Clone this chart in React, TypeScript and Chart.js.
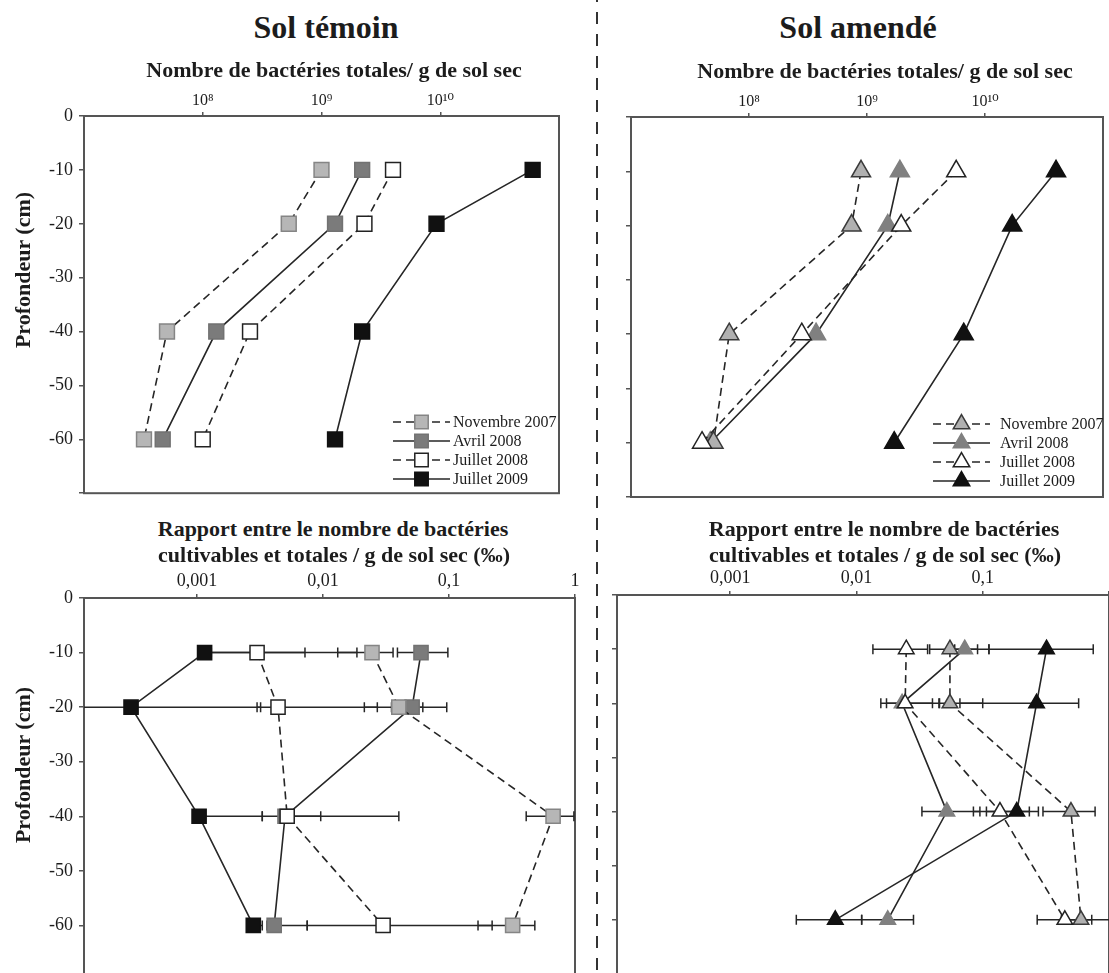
import React, { useEffect, useRef } from 'react';
import { Chart, registerables } from 'chart.js';

Chart.register(...registerables);

// ---------------- DATA ----------------
const depths = [-10, -20, -40, -60];
const depthTicks = [0, -10, -20, -30, -40, -50, -60, -70];
const seriesLabels = ['Novembre 2007', 'Avril 2008', 'Juillet 2008', 'Juillet 2009'];

const totalTicks = [1e8, 1e9, 1e10];
const totalTickLabels = ['10⁸', '10⁹', '10¹⁰'];
const ratioTicks = [0.001, 0.01, 0.1, 1];
const ratioTickLabelsTemoin = ['0,001', '0,01', '0,1', '1'];
const ratioTickLabelsAmende = ['0,001', '0,01', '0,1', ''];

// Sol témoin – total bacteria / g dry soil
const temoinTotNov07 = [1.0e9, 5.3e8, 5.0e7, 3.2e7];
const temoinTotAvr08 = [2.2e9, 1.3e9, 1.3e8, 4.6e7];
const temoinTotJul08 = [4.0e9, 2.3e9, 2.5e8, 1.0e8];
const temoinTotJul09 = [6.0e10, 9.3e9, 2.2e9, 1.3e9];

// Sol amendé – total bacteria / g dry soil
const amendeTotNov07 = [8.9e8, 7.4e8, 6.8e7, 5.0e7];
const amendeTotAvr08 = [1.9e9, 1.5e9, 3.7e8, 4.7e7];
const amendeTotJul08 = [5.7e9, 1.95e9, 2.8e8, 4.0e7];
const amendeTotJul09 = [4.0e10, 1.7e10, 6.6e9, 1.7e9];

// Sol témoin – cultivable / total ratio (‰) with error bounds
const temoinRatNov07 = [0.0245, 0.04, 0.67, 0.32];
const temoinRatNov07Low = [0.0131, 0.035, 0.41, 0.17];
const temoinRatNov07High = [0.036, 0.062, 0.98, 0.48];
const temoinRatAvr08 = [0.06, 0.051, 0.005, 0.0041];
const temoinRatAvr08Low = [0.039, 0.0213, 0.0045, 0.0036];
const temoinRatAvr08High = [0.098, 0.096, 0.04, 0.0075];
const temoinRatJul08 = [0.003, 0.0044, 0.0052, 0.03];
const temoinRatJul08Low = [0.0013, 0.003, 0.0033, 0.0075];
const temoinRatJul08High = [0.0072, 0.027, 0.0096, 0.22];
const temoinRatJul09 = [0.00115, 0.0003, 0.00104, 0.0028];
const temoinRatJul09Low = [0.00105, 0.0001, 0.00095, 0.0026];
const temoinRatJul09High = [0.0186, 0.0032, 0.0033, 0.0033];

// Sol amendé – cultivable / total ratio (‰) with error bounds
const amendeRatNov07 = [0.055, 0.055, 0.5, 0.6];
const amendeRatNov07Low = [0.038, 0.045, 0.3, 0.42];
const amendeRatNov07High = [0.091, 0.1, 0.776, 1.1];
const amendeRatAvr08 = [0.072, 0.023, 0.052, 0.0177];
const amendeRatAvr08Low = [0.06, 0.0156, 0.033, 0.011];
const amendeRatAvr08High = [0.112, 0.04, 0.095, 0.0283];
const amendeRatJul08 = [0.0248, 0.0243, 0.137, 0.447];
const amendeRatJul08Low = [0.0135, 0.0173, 0.0844, 0.27];
const amendeRatJul08High = [0.0366, 0.0455, 0.234, 0.73];
const amendeRatJul09 = [0.32, 0.267, 0.186, 0.0068];
const amendeRatJul09Low = [0.112, 0.066, 0.107, 0.00334];
const amendeRatJul09High = [0.75, 0.575, 0.276, 0.011];

// ---------------- STYLE ----------------
const FONT = "'Liberation Serif', 'DejaVu Serif', serif";
const AXIS = '#555555';
const INK = '#1c1c1c';
const LINE = '#262626';
const dashes = [[8, 5], [], [8, 5], []];
const squareFill = ['#b6b6b6', '#7b7b7b', '#ffffff', '#111111'];
const squareStroke = ['#858585', '#727272', '#222222', '#111111'];
const triFill = ['#b0b0b0', '#808080', '#ffffff', '#111111'];
const triStroke = ['#3a3a3a', '#808080', '#222222', '#111111'];
const drawOrder = [2, 3, 1, 4];

type PanelSpec = {
  left: number; top: number; w: number; h: number;
  yW: number; xH: number; padR: number; padB: number;
  series: number[][];
  low?: number[][]; high?: number[][];
  xMin: number; xMax: number; ticks: number[]; tickLabels: string[]; tickFont: number;
  showY: boolean;
  marker: 'rect' | 'triangle'; radius: number; fills: string[]; strokes: string[];
  legend?: any;
};

// ---------------- PLUGINS ----------------
const boxPlugin = {
  id: 'plotBox',
  beforeDatasetsDraw(chart: any) {
    const { ctx, chartArea: a } = chart;
    ctx.save();
    ctx.strokeStyle = AXIS;
    ctx.lineWidth = 2;
    ctx.strokeRect(a.left, a.top, a.right - a.left, a.bottom - a.top);
    ctx.restore();
  },
};

const errorBarPlugin = {
  id: 'errorBars',
  beforeDatasetsDraw(chart: any, _args: any, opts: any) {
    if (!opts || !opts.low) return;
    const { ctx, chartArea: a, scales } = chart;
    const xs = scales.x, ys = scales.y;
    ctx.save();
    ctx.beginPath();
    ctx.rect(a.left, a.top - 10, a.right - a.left, a.bottom - a.top + 20);
    ctx.clip();
    ctx.strokeStyle = LINE;
    ctx.lineWidth = 1.5;
    const lows: number[][] = opts.low;
    const highs: number[][] = opts.high;
    for (let s = 0; s < lows.length; s++) {
      for (let i = 0; i < depths.length; i++) {
        const py = ys.getPixelForValue(depths[i]);
        const x0 = xs.getPixelForValue(lows[s][i]);
        const x1 = xs.getPixelForValue(highs[s][i]);
        ctx.beginPath();
        ctx.moveTo(x0, py); ctx.lineTo(x1, py);
        ctx.moveTo(x0, py - 5); ctx.lineTo(x0, py + 5);
        ctx.moveTo(x1, py - 5); ctx.lineTo(x1, py + 5);
        ctx.stroke();
      }
    }
    ctx.restore();
  },
};

function drawMarker(ctx: CanvasRenderingContext2D, style: string, x: number, y: number, r: number) {
  ctx.beginPath();
  if (style === 'triangle') {
    for (let k = 0; k < 3; k++) {
      const ang = (k * 2 * Math.PI) / 3;
      const px = x + Math.sin(ang) * r;
      const py = y - Math.cos(ang) * r;
      if (k === 0) ctx.moveTo(px, py); else ctx.lineTo(px, py);
    }
    ctx.closePath();
  } else {
    const s = r * Math.SQRT1_2;
    ctx.rect(x - s, y - s, 2 * s, 2 * s);
  }
  ctx.fill();
  ctx.stroke();
}

const insideLegendPlugin = {
  id: 'insideLegend',
  afterDatasetsDraw(chart: any, _args: any, opts: any) {
    if (!opts || !opts.show) return;
    const { ctx, chartArea: a } = chart;
    ctx.save();
    chart.data.datasets.forEach((ds: any, i: number) => {
      const y = a.top + opts.top + i * opts.rowGap;
      const x0 = a.left + opts.lineStart;
      const x1 = a.left + opts.lineEnd;
      ctx.strokeStyle = ds.borderColor;
      ctx.lineWidth = ds.borderWidth;
      ctx.setLineDash(ds.borderDash || []);
      ctx.beginPath();
      ctx.moveTo(x0, y); ctx.lineTo(x1, y);
      ctx.stroke();
      ctx.setLineDash([]);
      ctx.fillStyle = ds.pointBackgroundColor;
      ctx.strokeStyle = ds.pointBorderColor;
      ctx.lineWidth = ds.pointBorderWidth;
      drawMarker(ctx, ds.pointStyle, (x0 + x1) / 2, y, opts.markerRadius);
      ctx.fillStyle = INK;
      ctx.font = `${opts.fontSize}px ${FONT}`;
      ctx.textAlign = 'left';
      ctx.textBaseline = 'middle';
      ctx.fillText(ds.label, a.left + opts.textX, y + 1);
    });
    ctx.restore();
  },
};

// ---------------- CONFIG ----------------
function buildConfig(p: PanelSpec): any {
  const datasets = p.series.map((vals, i) => ({
    label: seriesLabels[i],
    data: vals.map((v, j) => ({ x: v, y: depths[j] })),
    showLine: true,
    borderColor: LINE,
    borderWidth: 1.6,
    borderDash: dashes[i],
    pointStyle: p.marker,
    pointRadius: p.radius,
    pointHoverRadius: p.radius,
    pointBackgroundColor: p.fills[i],
    pointBorderColor: p.strokes[i],
    pointBorderWidth: 1.5,
    order: drawOrder[i],
    clip: 12,
  }));
  return {
    type: 'scatter',
    data: { datasets },
    plugins: [boxPlugin, errorBarPlugin, insideLegendPlugin],
    options: {
      responsive: false,
      animation: false,
      devicePixelRatio: 1,
      events: [],
      layout: { padding: { left: 0, top: 0, right: p.padR, bottom: p.padB } },
      plugins: {
        legend: { display: false },
        tooltip: { enabled: false },
        title: { display: false },
        errorBars: p.low ? { low: p.low, high: p.high } : { low: null },
        insideLegend: p.legend ? { show: true, ...p.legend } : { show: false },
      },
      scales: {
        x: {
          type: 'logarithmic',
          position: 'top',
          min: p.xMin,
          max: p.xMax,
          afterBuildTicks: (s: any) => { s.ticks = p.ticks.map((v) => ({ value: v })); },
          afterFit: (s: any) => { s.height = p.xH; },
          ticks: {
            autoSkip: false,
            maxRotation: 0,
            padding: 2,
            color: INK,
            font: { family: FONT, size: p.tickFont },
            callback: (v: number) => {
              const k = p.ticks.indexOf(v);
              return k >= 0 ? p.tickLabels[k] : '';
            },
          },
          grid: { drawOnChartArea: false, drawTicks: true, tickLength: 4, color: AXIS, lineWidth: 1.5 },
          border: { display: true, color: AXIS, width: 2 },
        },
        y: {
          type: 'linear',
          min: -70,
          max: 0,
          afterBuildTicks: (s: any) => { s.ticks = depthTicks.map((v) => ({ value: v })); },
          afterFit: (s: any) => { s.width = p.yW; },
          ticks: {
            display: p.showY,
            padding: 6,
            color: INK,
            font: { family: FONT, size: 18 },
            callback: (v: number) => (v === -70 ? '' : String(v)),
          },
          grid: { drawOnChartArea: false, drawTicks: true, tickLength: 5, color: AXIS, lineWidth: 1.5 },
          border: { display: true, color: AXIS, width: 2 },
        },
      },
    },
  };
}

const panels: PanelSpec[] = [
  {
    left: 0, top: 80, w: 575, h: 430, yW: 84, xH: 36, padR: 16, padB: 15,
    series: [temoinTotNov07, temoinTotAvr08, temoinTotJul08, temoinTotJul09],
    xMin: 1e7, xMax: 1e11, ticks: totalTicks, tickLabels: totalTickLabels, tickFont: 16,
    showY: true, marker: 'rect', radius: 10.5, fills: squareFill, strokes: squareStroke,
    legend: { top: 306, rowGap: 19, lineStart: 309, lineEnd: 366, textX: 369, markerRadius: 9.5, fontSize: 16 },
  },
  {
    left: 560, top: 80, w: 560, h: 430, yW: 71, xH: 37, padR: 17, padB: 13,
    series: [amendeTotNov07, amendeTotAvr08, amendeTotJul08, amendeTotJul09],
    xMin: 1e7, xMax: 1e11, ticks: totalTicks, tickLabels: totalTickLabels, tickFont: 16,
    showY: false, marker: 'triangle', radius: 11, fills: triFill, strokes: triStroke,
    legend: { top: 307, rowGap: 19, lineStart: 302, lineEnd: 359, textX: 369, markerRadius: 9.5, fontSize: 16 },
  },
  {
    left: 0, top: 560, w: 590, h: 440, yW: 84, xH: 38, padR: 15, padB: 20,
    series: [temoinRatNov07, temoinRatAvr08, temoinRatJul08, temoinRatJul09],
    low: [temoinRatNov07Low, temoinRatAvr08Low, temoinRatJul08Low, temoinRatJul09Low],
    high: [temoinRatNov07High, temoinRatAvr08High, temoinRatJul08High, temoinRatJul09High],
    xMin: 1.27e-4, xMax: 1, ticks: ratioTicks, tickLabels: ratioTickLabelsTemoin, tickFont: 18,
    showY: true, marker: 'rect', radius: 10, fills: squareFill, strokes: squareStroke,
  },
  {
    left: 600, top: 560, w: 530, h: 440, yW: 17, xH: 35, padR: 21, padB: 26,
    series: [amendeRatNov07, amendeRatAvr08, amendeRatJul08, amendeRatJul09],
    low: [amendeRatNov07Low, amendeRatAvr08Low, amendeRatJul08Low, amendeRatJul09Low],
    high: [amendeRatNov07High, amendeRatAvr08High, amendeRatJul08High, amendeRatJul09High],
    xMin: 1.27e-4, xMax: 1, ticks: ratioTicks, tickLabels: ratioTickLabelsAmende, tickFont: 18,
    showY: false, marker: 'triangle', radius: 9, fills: triFill, strokes: triStroke,
  },
];

function ChartPanel({ spec }: { spec: PanelSpec }) {
  const ref = useRef<HTMLCanvasElement>(null);
  useEffect(() => {
    const chart = new Chart(ref.current as HTMLCanvasElement, buildConfig(spec));
    return () => chart.destroy();
  }, [spec]);
  return (
    <canvas
      ref={ref}
      width={spec.w}
      height={spec.h}
      style={{ position: 'absolute', left: spec.left, top: spec.top, width: spec.w, height: spec.h }}
    />
  );
}

function Text({ x, y, size, bold = true, rotate = false, children }: any) {
  return (
    <div
      style={{
        position: 'absolute', left: x, top: y,
        transform: `translate(-50%, -50%)${rotate ? ' rotate(-90deg)' : ''}`,
        fontSize: size, fontWeight: bold ? 700 : 400, whiteSpace: 'nowrap',
        lineHeight: 1, color: INK, fontFamily: FONT,
      }}
    >
      {children}
    </div>
  );
}

export default function App() {
  return (
    <div style={{ position: 'fixed', left: 0, top: 0, width: 1109, height: 973, overflow: 'hidden', background: '#ffffff' }}>
      <div
        style={{
          position: 'absolute', left: 596, top: -10, width: 2, height: 1000,
          background: 'repeating-linear-gradient(to bottom, #333 0px, #333 12px, transparent 12px, transparent 22px)',
        }}
      />
      {panels.map((p, i) => <ChartPanel key={i} spec={p} />)}
      <Text x={326} y={27} size={32}>Sol témoin</Text>
      <Text x={858} y={27} size={32}>Sol amendé</Text>
      <Text x={334} y={70} size={22}>Nombre de bactéries totales/ g de sol sec</Text>
      <Text x={885} y={71} size={22}>Nombre de bactéries totales/ g de sol sec</Text>
      <Text x={333} y={529} size={22}>Rapport entre le nombre de bactéries</Text>
      <Text x={334} y={555} size={22}>cultivables et totales / g de sol sec (‰)</Text>
      <Text x={884} y={529} size={22}>Rapport entre le nombre de bactéries</Text>
      <Text x={885} y={555} size={22}>cultivables et totales / g de sol sec (‰)</Text>
      <Text x={23} y={270} size={22} rotate>Profondeur (cm)</Text>
      <Text x={23} y={765} size={22} rotate>Profondeur (cm)</Text>
    </div>
  );
}
